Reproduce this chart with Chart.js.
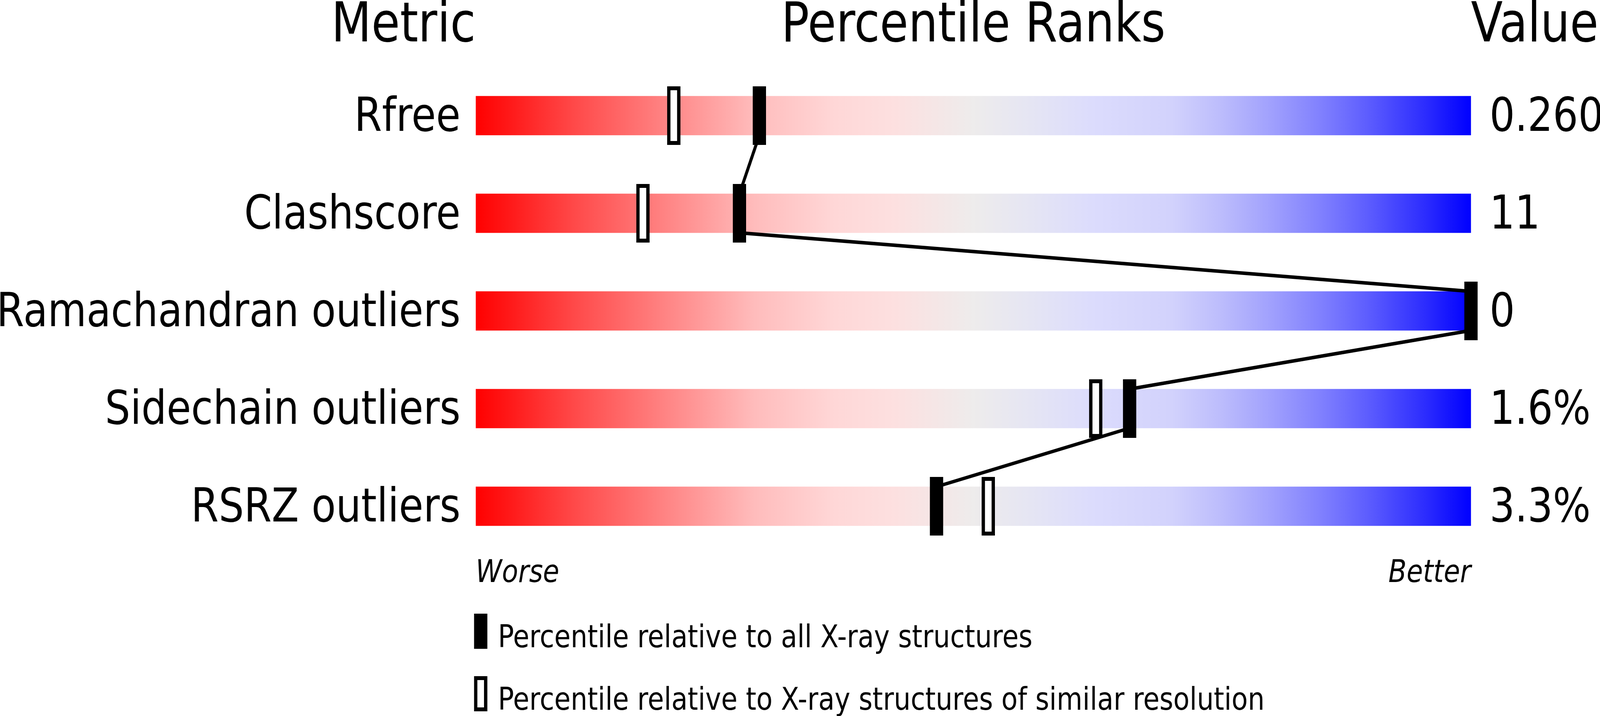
<!DOCTYPE html>
<html>
<head>
<meta charset="utf-8">
<script src="https://cdn.jsdelivr.net/npm/chart.js@4.4.1/dist/chart.umd.min.js"></script>
<style>
  html, body { margin: 0; padding: 0; background: #fff; overflow: hidden; }
  #wrap { position: absolute; left: 0; top: 0; width: 4823px; height: 1833px; transform-origin: 0 0; }
</style>
</head>
<body>
<div id="wrap"><canvas id="sliderChart"></canvas></div>
<script>
// Validation slider data
const metrics = ['Rfree', 'Clashscore', 'Ramachandran outliers', 'Sidechain outliers', 'RSRZ outliers'];
const metricValues = ['0.260', '11', '0', '1.6%', '3.3%'];
const pctAll = [28.5, 26.5, 100, 65.7, 46.3];      // vs all X-ray structures
const pctSimilar = [19.9, 16.8, 100, 62.3, 51.5];  // vs similar resolution
const rankEnds = ['Worse', 'Better'];
const headers = ['Metric', 'Percentile Ranks', 'Value'];
const legendLabels = [
    'Percentile relative to all X-ray structures',
    'Percentile relative to X-ray structures of similar resolution'
];

const fontFamily = "'DejaVu Sans', 'Liberation Sans', sans-serif";
const barHalf = 0.2;      // half bar thickness in row units (100px of 250px)
const labelShift = 0.032; // nudges row labels onto the bar baseline

const gradientStops = [
    [0, '#ff0000'], [0.1, '#ff4a4a'], [0.2, '#ff8a8a'], [0.28, '#ffbcbc'],
    [0.36, '#ffd7d7'], [0.42, '#fde0e0'], [0.5, '#eeecec'], [0.56, '#e5e5f4'],
    [0.62, '#dcdcfd'], [0.7, '#d2d2fc'], [0.75, '#bcbcfc'], [0.8, '#a0a0fd'],
    [0.85, '#8080fe'], [0.9, '#5a5afe'], [0.95, '#3030fe'], [1, '#0000ff']
];

// the chart is laid out at 4823x1833 and fitted to whatever viewport we get
const wrap = document.getElementById('wrap');
wrap.style.transform = 'scale(' + (window.innerWidth / 4823) + ',' + (window.innerHeight / 1833) + ')';

// marker images used as point styles
const makeMarker = function (w, h, open) {
    const c = document.createElement('canvas');
    c.width = w;
    c.height = h;
    const g = c.getContext('2d');
    g.fillStyle = '#000';
    g.fillRect(0, 0, w, h);
    if (open) {
        g.fillStyle = '#fff';
        g.fillRect(10, 10, w - 20, h - 20);
    }
    return c;
};
const filledMarker = makeMarker(40, 150, false);
const openMarker = makeMarker(40, 150, true);

const barGradient = function (ctx) {
    const chart = ctx.chart;
    if (!chart.chartArea) return '#eeeeee';
    const x = chart.scales.x;
    const grad = chart.ctx.createLinearGradient(x.getPixelForValue(0), 0, x.getPixelForValue(100), 0);
    gradientStops.forEach(s => grad.addColorStop(s[0], s[1]));
    return grad;
};

const rowTicks = function (axis) {
    axis.ticks = metrics.map((m, i) => ({ value: i + labelShift }));
};

// headers and legend
const decorPlugin = {
    id: 'decor',
    afterDraw(chart) {
        const ctx = chart.ctx;
        const x = chart.scales.x;
        const left = x.getPixelForValue(0), right = x.getPixelForValue(100);
        ctx.save();
        ctx.fillStyle = '#000';
        ctx.textBaseline = 'alphabetic';
        ctx.font = '140px ' + fontFamily;
        ctx.textAlign = 'right';
        ctx.fillText(headers[0], left, 106);
        ctx.textAlign = 'center';
        ctx.fillText(headers[1], (left + right) / 2, 106);
        ctx.textAlign = 'left';
        ctx.fillText(headers[2], right, 106);

        ctx.font = '80px ' + fontFamily;
        const legendY = [1571, 1731];
        legendLabels.forEach((txt, i) => {
            const y = legendY[i];
            ctx.fillStyle = '#000';
            ctx.fillRect(left - 5, y, 40, 90);
            if (i === 1) {
                ctx.fillStyle = '#fff';
                ctx.fillRect(left + 5, y + 10, 20, 70);
                ctx.fillStyle = '#000';
            }
            ctx.fillText(txt, left + 67, y + 86);
        });
        ctx.restore();
    }
};

const sliderChart = new Chart(document.getElementById('sliderChart'), {
    type: 'bar',
    data: {
        datasets: [
            {
                type: 'scatter',
                label: 'all',
                data: pctAll.map((p, i) => ({ x: p, y: i })),
                pointStyle: filledMarker,
                pointRadius: 20,
                clip: false,
                order: 0
            },
            {
                type: 'line',
                label: 'link',
                data: pctAll.flatMap((p, i) => [{ x: p, y: i - barHalf }, { x: p, y: i + barHalf }]),
                borderColor: '#000',
                borderWidth: 9,
                borderJoinStyle: 'round',
                pointRadius: 0,
                tension: 0,
                fill: false,
                clip: false,
                order: 1
            },
            {
                type: 'scatter',
                label: 'similar',
                data: pctSimilar.map((p, i) => ({ x: p, y: i })),
                pointStyle: openMarker,
                pointRadius: 20,
                clip: false,
                order: 2
            },
            {
                type: 'bar',
                label: 'range',
                indexAxis: 'y',
                data: metrics.map((m, i) => ({ y: i, x: [0, 100] })),
                backgroundColor: barGradient,
                borderWidth: 0,
                barThickness: 100,
                order: 3
            }
        ]
    },
    options: {
        indexAxis: 'y',
        responsive: true,
        maintainAspectRatio: false,
        devicePixelRatio: 1,
        animation: false,
        events: [],
        layout: { autoPadding: false, padding: { top: 171, left: 0, right: 0, bottom: 0 } },
        plugins: {
            legend: { display: false },
            tooltip: { enabled: false },
            title: { display: false }
        },
        scales: {
            x: {
                type: 'linear',
                position: 'bottom',
                min: 0,
                max: 100,
                offset: false,
                grid: { display: false, drawTicks: false },
                border: { display: false },
                afterBuildTicks: axis => { axis.ticks = [{ value: 0 }, { value: 100 }]; },
                afterFit: axis => { axis.height = 412; },
                ticks: {
                    align: 'inner',
                    autoSkip: false,
                    maxRotation: 0,
                    padding: 0,
                    color: '#000',
                    font: { family: fontFamily, size: 80, style: 'italic' },
                    callback: v => (v === 0 ? rankEnds[0] : rankEnds[1])
                }
            },
            y: {
                type: 'linear',
                position: 'left',
                min: -0.5,
                max: 4.5,
                reverse: true,
                offset: false,
                grid: { display: false, drawTicks: false },
                border: { display: false },
                afterBuildTicks: rowTicks,
                afterFit: axis => { axis.width = 1434; },
                ticks: {
                    autoSkip: false,
                    padding: 46,
                    color: '#000',
                    font: { family: fontFamily, size: 120 },
                    callback: v => metrics[Math.round(v)]
                }
            },
            yValue: {
                type: 'linear',
                position: 'right',
                min: -0.5,
                max: 4.5,
                reverse: true,
                offset: false,
                grid: { display: false, drawTicks: false },
                border: { display: false },
                afterBuildTicks: rowTicks,
                afterFit: axis => { axis.width = 389; },
                ticks: {
                    autoSkip: false,
                    padding: 56,
                    color: '#000',
                    font: { family: fontFamily, size: 120 },
                    callback: v => metricValues[Math.round(v)]
                }
            }
        }
    },
    plugins: [decorPlugin]
});
</script>
</body>
</html>
